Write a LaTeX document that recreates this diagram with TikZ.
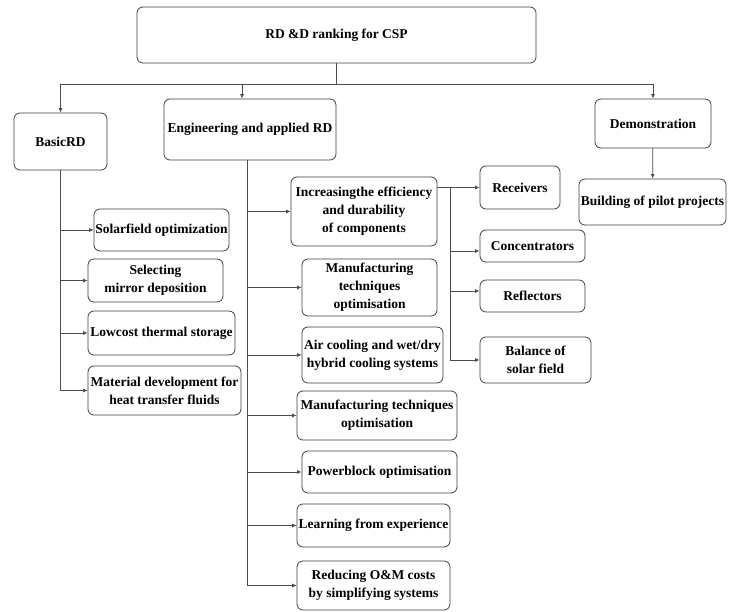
\documentclass[tikz,border=0pt]{standalone}
\usepackage{fontspec}
\setmainfont{Liberation Serif}
\usetikzlibrary{arrows.meta}
\begin{document}
\begin{tikzpicture}[x=1pt,y=-1pt,
  box/.style={draw=black!75,line width=0.8pt,rounded corners=6pt,inner sep=0pt,align=center,
    font=\fontsize{13.5}{18}\selectfont\bfseries},
  conn/.style={draw=black!70,line width=0.8pt},
  arr/.style={conn,-{Latex[length=4.5pt,width=4pt]}}]
\useasboundingbox (0,0) rectangle (738,612);
\fill[white] (0,0) rectangle (738,612);
% top level
\node[box,minimum width=399pt,minimum height=56pt] (top) at (336.5,35) {RD \&D ranking for CSP};
\node[box,minimum width=93pt,minimum height=57pt] (basic) at (60.5,141.5) {BasicRD};
\node[box,minimum width=172pt,minimum height=61pt] (eng) at (250,129.5) {Engineering and applied RD};
\node[box,minimum width=116pt,minimum height=49pt] (demo) at (653,123.5) {Demonstration};
\node[box,minimum width=147pt,minimum height=46pt] (build) at (652.5,202) {Building of pilot projects};
% basic RD
\node[box,minimum width=135pt,minimum height=42pt] (solar) at (161.5,230) {Solarfield optimization};
\node[box,minimum width=135pt,minimum height=43pt] (select) at (155.5,280.5) {Selecting\\mirror deposition};
\node[box,minimum width=147pt,minimum height=44pt] (lowcost) at (161.5,333) {Lowcost thermal storage};
\node[box,minimum width=153pt,minimum height=49pt] (material) at (164.5,390.5) {Material development for\\heat transfer fluids};
% engineering
\node[box,minimum width=146pt,minimum height=69pt] (incr) at (364,211.5) {Increasingthe efficiency\\and durability\\of components};
\node[box,minimum width=135pt,minimum height=57pt] (manufa) at (369.5,287.5) {Manufacturing\\techniques\\optimisation};
\node[box,minimum width=141pt,minimum height=56pt] (air) at (372.5,355) {Air cooling and wet/dry\\hybrid cooling systems};
\node[box,minimum width=160pt,minimum height=49pt] (manufb) at (377,415.5) {Manufacturing techniques\\optimisation};
\node[box,minimum width=155pt,minimum height=42pt] (power) at (379.5,472) {Powerblock optimisation};
\node[box,minimum width=153pt,minimum height=43pt] (learn) at (373.5,525.5) {Learning from experience};
\node[box,minimum width=153pt,minimum height=49pt] (reduce) at (373.5,585.5) {Reducing O\&M costs\\by simplifying systems};
% components
\node[box,minimum width=80pt,minimum height=43pt] (recv) at (520,187.5) {Receivers};
\node[box,minimum width=105pt,minimum height=32pt] (conc) at (532.5,246) {Concentrators};
\node[box,minimum width=105pt,minimum height=32pt] (refl) at (532.5,296) {Reflectors};
\node[box,minimum width=111pt,minimum height=46pt] (bal) at (535.5,360) {Balance of\\solar field};
% connectors top
\coordinate (h) at (336,84);
\draw[conn] (top.south -| h) -- (h);
\draw[arr] (h) -| (basic);
\draw[arr] (h) -| ([xshift=-8pt]eng.north);
\draw[arr] (h) -| (demo);
\draw[arr] (demo) -- (build);
% basic branch
\coordinate (bv) at ([xshift=-0.5pt]basic.south);
\draw[arr] (bv) |- (solar);
\draw[arr] (bv) |- (select);
\draw[arr] (bv) |- (lowcost);
\draw[arr] (bv) |- (material);
% engineering branch
\coordinate (ev) at ([xshift=-3pt]eng.south);
\draw[arr] (ev) |- (incr);
\draw[arr] (ev) |- (manufa);
\draw[arr] (ev) |- (air);
\draw[arr] (ev) |- (manufb);
\draw[arr] (ev) |- (power);
\draw[arr] (ev) |- (learn);
\draw[arr] (ev) |- (reduce);
% components branch
\draw[arr] (incr.east |- recv) -- (recv);
\coordinate (j) at ([xshift=13pt]incr.east |- recv);
\draw[arr] (j) |- ([yshift=-5pt]conc.west);
\draw[arr] (j) |- ([yshift=5pt]refl.west);
\draw[arr] (j) |- (bal);
\end{tikzpicture}
\end{document}
